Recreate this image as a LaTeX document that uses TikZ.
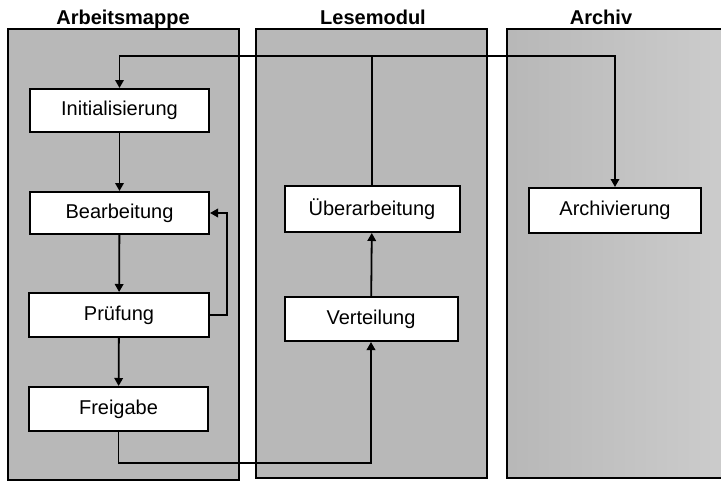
\documentclass[tikz,border=0pt]{standalone}
\usepackage{fontspec}
\setmainfont{Liberation Sans}
\usetikzlibrary{arrows.meta}
\definecolor{lanegray}{gray}{0.72}
\definecolor{lanelight}{gray}{0.80}
\begin{document}
\begin{tikzpicture}[x=1pt,y=-1pt,
  lane/.style={draw=black,line width=2.2pt,fill=lanegray},
  title/.style={font=\fontsize{20}{22}\selectfont\bfseries,anchor=base},
  stepbox/.style={draw=black,line width=2pt,fill=white,inner sep=0pt,
    font=\fontsize{20}{22}\selectfont},
  conn/.style={line width=1.8pt},
  arr/.style={conn,-{Triangle[width=8.5pt,length=8pt]}}]
\useasboundingbox (0,0) rectangle (721,482);
% lanes
\draw[lane] (8,29) rectangle (239,480);
\draw[lane] (256,29) rectangle (487,478);
\draw[lane,left color=lanegray,right color=lanelight] (507,29) rectangle (726,478);
% titles
\node[title] (t1) at (123,24) {Arbeitsmappe};
\node[title] (t2) at (373,24) {Lesemodul};
\node[title] (t3) at (601,24) {Archiv};
% steps
\node[stepbox,minimum width=179pt,minimum height=43pt] (init) at (119.5,110.5) {Initialisierung};
\node[stepbox,minimum width=179pt,minimum height=42pt] (bearb) at (119.5,213) {Bearbeitung};
\node[stepbox,minimum width=180pt,minimum height=44pt] (pruef) at (119,315) {Prüfung};
\node[stepbox,minimum width=179pt,minimum height=44pt] (freig) at (118.5,409) {Freigabe};
\node[stepbox,minimum width=175pt,minimum height=46pt] (ueber) at (372,209) {Überarbeitung};
\node[stepbox,minimum width=173pt,minimum height=44pt] (vert) at (371,319) {Verteilung};
\node[stepbox,minimum width=172pt,minimum height=45pt] (arch) at (615,210.5) {Archivierung};
% helper coordinates
\coordinate (toprow) at (0,56);
\coordinate (botrow) at (0,463);
\coordinate (loopx) at (227,0);
% connectors
\draw[arr] (init) -- (bearb);
\draw[arr] (bearb) -- (pruef);
\draw[arr] (pruef) -- (freig);
\draw[arr] (pruef.east) -- (pruef.east -| loopx) |- (bearb.east);
\draw[arr] (freig.south) -- (freig.south |- botrow) -| (vert.south);
\draw[arr] (vert) -- (ueber);
\draw[conn] (ueber.north) -- (ueber.north |- toprow);
\draw[arr] (ueber.north |- toprow) -| (init.north);
\draw[arr] (ueber.north |- toprow) -| (arch.north);
\end{tikzpicture}
\end{document}
